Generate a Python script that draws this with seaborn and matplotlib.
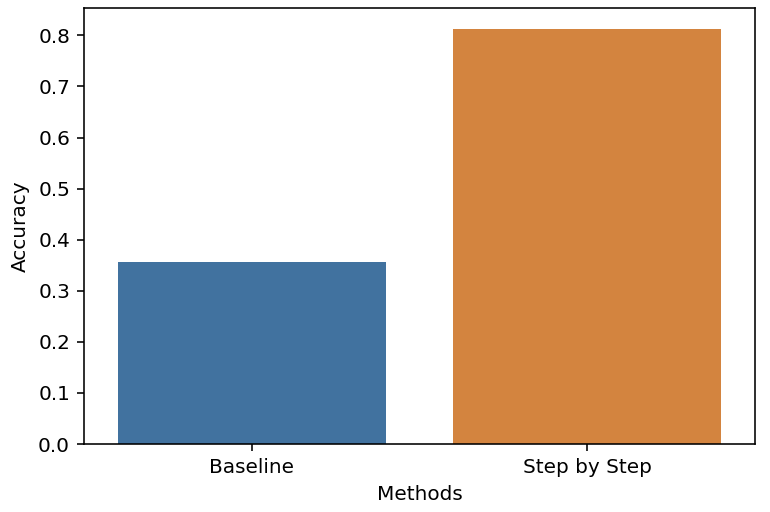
import pandas as pd
import matplotlib
matplotlib.use("Agg")
import matplotlib.pyplot as plt
import seaborn as sns

methods = ["Baseline", "Step by Step"]
accuracy = [0.357, 0.813]

df = pd.DataFrame({"Methods": methods, "Accuracy": accuracy})

# bar colours as they appear in the screenshot
bar_colors = ["#41729f", "#d3843f"]

fig = plt.figure(figsize=(770 / 144, 512 / 144), dpi=144)
ax = fig.add_axes([84 / 770, 68 / 512, 671 / 770, 436 / 512])

sns.barplot(data=df, x="Methods", y="Accuracy", hue="Methods",
            palette=bar_colors, saturation=1, legend=False, ax=ax)

fig.savefig("out.png", dpi=144)
